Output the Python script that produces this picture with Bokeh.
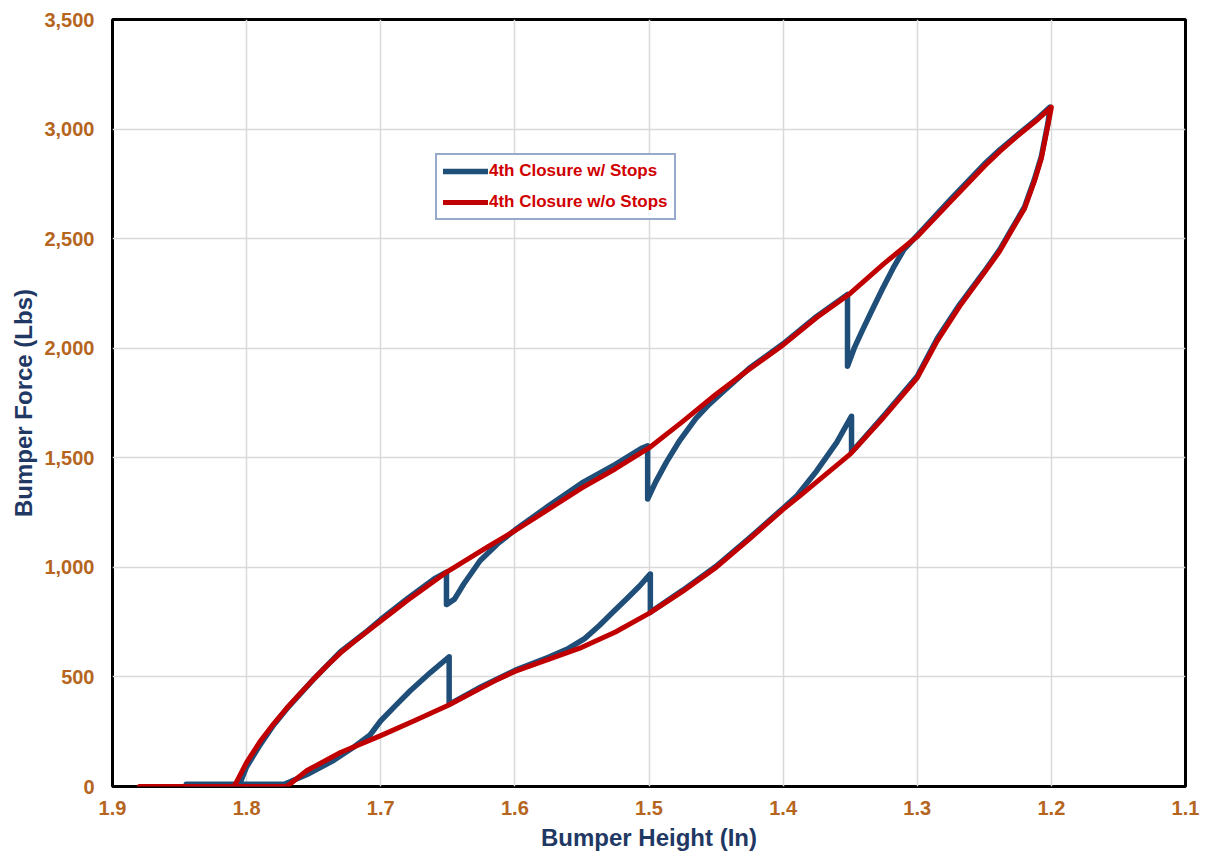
from bokeh.plotting import figure
from bokeh.models import Range1d, FixedTicker, NumeralTickFormatter, PrintfTickFormatter, Legend, LegendItem
from bokeh.embed import file_html
from bokeh.resources import INLINE

# Series: 4th Closure w/o Stops (red)
red_x = [1.88, 1.81, 1.808, 1.80, 1.79, 1.78, 1.77, 1.76, 1.75, 1.74, 1.73, 1.72, 1.71, 1.70, 1.68, 1.65, 1.62,
         1.60, 1.575, 1.55, 1.525, 1.50, 1.475, 1.45, 1.425, 1.40, 1.375, 1.35, 1.325, 1.30, 1.275, 1.25, 1.2385,
         1.225, 1.21, 1.20,
         1.2025, 1.2075, 1.2127, 1.22, 1.23, 1.2385, 1.25, 1.2683, 1.285, 1.30, 1.325, 1.35, 1.3875, 1.40, 1.425,
         1.45, 1.475, 1.50, 1.525, 1.55, 1.575, 1.5875, 1.60, 1.6125, 1.625, 1.65, 1.675, 1.70, 1.73, 1.755, 1.77,
         1.81]
red_y = [0, 0, 15, 110, 205, 285, 358, 425, 490, 552, 610, 660, 708, 755, 850, 982, 1095,
         1167, 1265, 1363, 1450, 1545, 1665, 1790, 1905, 2015, 2140, 2250, 2385, 2510, 2670, 2830, 2898,
         2970, 3045, 3100,
         3020, 2866, 2761, 2638, 2534, 2443, 2345, 2192, 2035, 1865, 1685, 1517, 1326, 1265, 1130,
         1000, 890, 790, 705, 635, 580, 553, 525, 490, 450, 370, 300, 232, 155, 73, 0,
         0]

# Series: 4th Closure w/ Stops (blue)
blue_x = [1.845, 1.806, 1.804, 1.80, 1.79, 1.78, 1.77, 1.75, 1.73, 1.71, 1.70, 1.68, 1.66, 1.651, 1.651, 1.645,
          1.638, 1.626, 1.613, 1.60, 1.575, 1.55, 1.525, 1.505, 1.501, 1.501, 1.495, 1.487, 1.477, 1.465, 1.455,
          1.445, 1.425, 1.40, 1.375, 1.352, 1.352, 1.347, 1.341, 1.334, 1.326, 1.318, 1.31, 1.30, 1.275, 1.25,
          1.2385, 1.225, 1.21, 1.201,
          1.2025, 1.2075, 1.2127, 1.22, 1.23, 1.2385, 1.25, 1.2683, 1.285, 1.30, 1.325, 1.349, 1.349, 1.36, 1.375,
          1.39, 1.40, 1.425, 1.45, 1.475, 1.499, 1.499, 1.507, 1.516, 1.527, 1.537, 1.548, 1.56, 1.575, 1.60,
          1.625, 1.649, 1.649, 1.663, 1.678, 1.689, 1.70, 1.708, 1.72, 1.735, 1.755, 1.772, 1.806]
blue_y = [10, 10, 30, 90, 190, 280, 355, 490, 615, 710, 762, 858, 948, 978, 830, 855,
          925, 1030, 1107, 1170, 1280, 1385, 1470, 1545, 1555, 1312, 1390, 1480, 1580, 1680, 1745,
          1800, 1910, 2020, 2145, 2245, 1918, 2000, 2080, 2170, 2270, 2365, 2450, 2515, 2680, 2840,
          2905, 2975, 3050, 3100,
          3030, 2875, 2770, 2645, 2540, 2450, 2350, 2200, 2045, 1872, 1692, 1525, 1690, 1570, 1440,
          1325, 1270, 1135, 1005, 895, 795, 970, 915, 860, 795, 735, 675, 630, 590, 530,
          455, 375, 592, 520, 437, 369, 300, 235, 180, 120, 55, 10, 10]

x_ticks = [1.9, 1.8, 1.7, 1.6, 1.5, 1.4, 1.3, 1.2, 1.1]
y_ticks = [0, 500, 1000, 1500, 2000, 2500, 3000, 3500]

FONT = "Liberation Sans"
TICK_COLOR = "#B5651D"
TITLE_COLOR = "#1F3864"

p = figure(width=1200, height=857, output_backend="svg", toolbar_location=None,
           x_range=Range1d(1.9, 1.1), y_range=Range1d(0, 3500),
           min_border_left=112, min_border_right=15, min_border_top=19, min_border_bottom=71)

p.background_fill_color = "white"
p.border_fill_color = "white"
p.outline_line_color = "black"
p.outline_line_width = 3

for ax in (p.xaxis[0], p.yaxis[0]):
    ax.axis_line_color = None
    ax.major_tick_line_color = None
    ax.minor_tick_line_color = None
    ax.major_tick_out = 0
    ax.major_tick_in = 0
    ax.major_label_text_font = FONT
    ax.major_label_text_font_style = "bold"
    ax.major_label_text_font_size = "20px"
    ax.major_label_text_color = TICK_COLOR
    ax.axis_label_text_font = FONT
    ax.axis_label_text_font_style = "bold"
    ax.axis_label_text_font_size = "24px"
    ax.axis_label_text_color = TITLE_COLOR

p.xaxis.ticker = FixedTicker(ticks=x_ticks)
p.xaxis.formatter = PrintfTickFormatter(format="%.1f")
p.xaxis.axis_label = "Bumper Height (In)"
p.xaxis.major_label_standoff = 14
p.xaxis.axis_label_standoff = 6

p.yaxis.ticker = FixedTicker(ticks=y_ticks)
p.yaxis.formatter = NumeralTickFormatter(format="0,0")
p.yaxis.axis_label = "Bumper Force (Lbs)"
p.yaxis.major_label_standoff = 18
p.yaxis.axis_label_standoff = 4

p.grid.grid_line_color = "#D9D9D9"
p.grid.grid_line_width = 1.5

rb = p.line(blue_x, blue_y, line_color="#1F4E79", line_width=5.5, line_join="round", line_cap="round")
rr = p.line(red_x, red_y, line_color="#C00000", line_width=5, line_join="round", line_cap="round")

legend = Legend(items=[LegendItem(label="4th Closure w/ Stops", renderers=[rb]),
                       LegendItem(label="4th Closure w/o Stops", renderers=[rr])],
                location=(323, 566))
legend.label_text_font = FONT
legend.label_text_font_style = "bold"
legend.label_text_font_size = "17px"
legend.label_text_color = "#D00000"
legend.glyph_width = 45
legend.glyph_height = 20
legend.label_height = 20
legend.label_standoff = 1
legend.spacing = 11
legend.padding = 6
legend.margin = 0
legend.border_line_color = "#2F5597"
legend.border_line_width = 2.5
legend.background_fill_color = "white"
legend.background_fill_alpha = 1
p.add_layout(legend, "center")

open("out.html", "w").write(file_html(p, INLINE))
